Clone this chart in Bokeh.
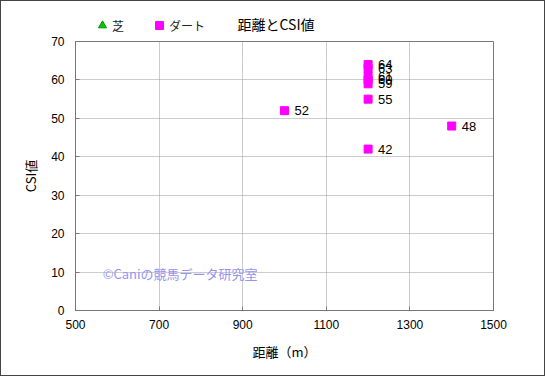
from bokeh.plotting import figure
from bokeh.layouts import column
from bokeh.models import Range1d, Label, Legend, LegendItem, ColumnDataSource, FixedTicker
from bokeh.core.properties import value
from bokeh.embed import file_html
from bokeh.resources import INLINE

# data
turf_dist = []
turf_csi = []
dirt_dist = [1000, 1200, 1200, 1200, 1200, 1200, 1200, 1200, 1400]
dirt_csi = [52, 64, 63, 61, 60, 59, 55, 42, 48]
x_ticks = [500, 700, 900, 1100, 1300, 1500]
y_ticks = [0, 10, 20, 30, 40, 50, 60, 70]
title_text = "距離とCSI値"
series_names = ["芝", "ダート"]

# ---- header (legend + title) ----
hdr = figure(width=543, height=33, output_backend="svg", toolbar_location=None,
             x_range=Range1d(0, 1), y_range=Range1d(0, 1),
             min_border=0, min_border_left=0, min_border_right=0,
             min_border_top=0, min_border_bottom=0)
hdr.axis.visible = False
hdr.grid.visible = False
hdr.outline_line_color = None
hdr.background_fill_color = "white"
hdr.border_fill_color = "white"

# legend proxies (placed outside the visible range; only their legend glyphs show)
h_turf = hdr.scatter(x=[-10], y=[-10], marker="triangle", size=9,
                     fill_color="#00cc00", line_color="#008800")
h_dirt = hdr.scatter(x=[-10], y=[-10], marker="square", size=8,
                     fill_color="#ff00ff", line_color="#ff00ff")
legend = Legend(items=[LegendItem(label=series_names[0], renderers=[h_turf]),
                       LegendItem(label=series_names[1], renderers=[h_dirt])],
                orientation="horizontal", location=(17, -1),
                border_line_color=None, background_fill_alpha=0,
                label_text_font="Noto Sans CJK JP", label_text_font_size="12px",
                label_text_color="#222222",
                glyph_width=20, glyph_height=20, label_standoff=0, spacing=17,
                padding=0, margin=0, label_height=14)
hdr.add_layout(legend, "center")
hdr.add_layout(Label(x=162, y=11, x_units="screen", y_units="screen", text=title_text,
                     text_font="Noto Sans CJK JP", text_font_size="14px", text_color="black",
                     text_align="left", text_baseline="middle"))

# ---- main plot ----
p = figure(width=543, height=341, output_backend="svg", toolbar_location=None,
           x_range=Range1d(500, 1500), y_range=Range1d(0, 70),
           min_border_left=74, min_border_right=51, min_border_top=7, min_border_bottom=65)
p.background_fill_color = "white"
p.border_fill_color = "white"
p.outline_line_color = "#777777"
p.outline_line_width = 1

for ax in (p.xaxis[0], p.yaxis[0]):
    ax.major_tick_in = 4
    ax.major_tick_out = 0
    ax.minor_tick_line_color = None
    ax.axis_line_color = "#777777"
    ax.major_tick_line_color = "#777777"
    ax.major_label_text_font = "Liberation Sans"
    ax.major_label_text_font_size = "12px"
    ax.major_label_text_color = "black"
    ax.axis_label_text_font = "Noto Sans CJK JP"
    ax.axis_label_text_font_size = "13px"
    ax.axis_label_text_font_style = "normal"
    ax.axis_label_text_color = "black"

p.xaxis.ticker = FixedTicker(ticks=x_ticks)
p.yaxis.ticker = FixedTicker(ticks=y_ticks)
p.xaxis.axis_label = "距離（m）"
p.yaxis.axis_label = "CSI値"
p.xaxis.major_label_standoff = 9
p.yaxis.major_label_standoff = 11
p.xaxis.axis_label_standoff = 10
p.yaxis.axis_label_standoff = 8

p.grid.grid_line_color = "#999999"
p.grid.grid_line_dash = "1 1"
p.grid.grid_line_width = 1

# watermark
p.add_layout(Label(x=565, y=9.6, text="©Caniの競馬データ研究室", text_font="Noto Sans CJK JP",
                   text_font_size="13px", text_color="#9595f0", text_baseline="middle"))

dirt_src = ColumnDataSource(dict(x=dirt_dist, y=dirt_csi, t=[str(v) for v in dirt_csi]))
p.scatter(x=turf_dist, y=turf_csi, marker="triangle", size=9,
          fill_color="#00cc00", line_color="#008800")
p.scatter("x", "y", source=dirt_src, marker="square", size=8,
          fill_color="#ff00ff", line_color="#ff00ff")
p.text("x", "y", text="t", source=dirt_src, x_offset=10, text_baseline="middle",
       text_font=value("Liberation Sans"), text_font_size="13px", text_color="black")

layout = column(hdr, p, spacing=0)
layout.styles = {"border": "1px solid #444444"}

open("out.html", "w").write(file_html(layout, INLINE))
